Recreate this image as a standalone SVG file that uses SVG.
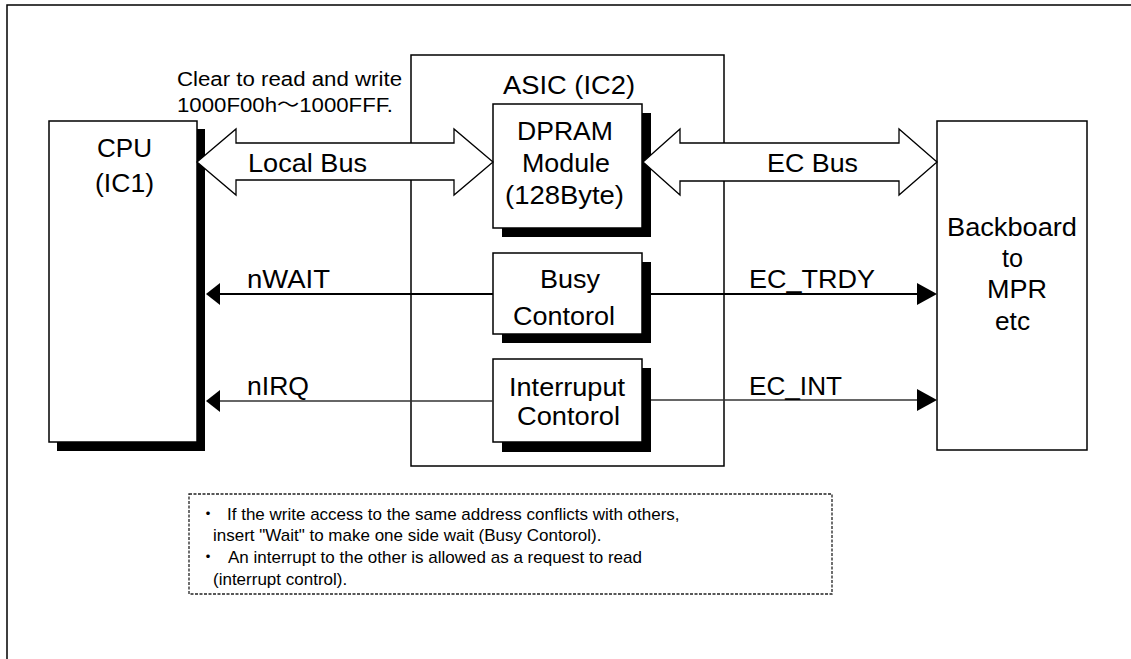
<svg xmlns="http://www.w3.org/2000/svg" width="1131" height="659" viewBox="0 0 1131 659">
<style>
text{font-family:"Liberation Sans",Arial,"Noto Sans CJK JP",sans-serif;fill:#000}
.lbl{font-size:25px}
.big{font-size:26px}
.note{font-size:17px}
.box{fill:#fff;stroke:#000;stroke-width:1.5}
.shadow{fill:#000}
.bus{fill:#fff;stroke:#000;stroke-width:1.3;stroke-linejoin:miter}
.sig{stroke:#000;stroke-width:2;fill:none}
.sig2{stroke:#333;stroke-width:1.3;fill:none}
.head{fill:#000}
</style>
<rect x="7" y="5" width="1140" height="700" fill="#fff" stroke="#000" stroke-width="1.5"/>
<g id="asic">
<rect class="box" x="411" y="55" width="313" height="411"/>
<text class="big" x="503" y="94" textLength="132" lengthAdjust="spacingAndGlyphs">ASIC (IC2)</text>
</g>
<g id="cpu">
<rect class="shadow" x="57" y="129" width="148" height="322"/>
<rect class="box" x="49" y="121" width="148" height="321"/>
<text class="big" x="97" y="157" textLength="55" lengthAdjust="spacingAndGlyphs">CPU</text>
<text class="big" x="95" y="192" textLength="59" lengthAdjust="spacingAndGlyphs">(IC1)</text>
</g>
<g id="dpram">
<rect class="shadow" x="502" y="113" width="149" height="124"/>
<rect class="box" x="493" y="104" width="149" height="124"/>
<text class="big" x="517" y="140" textLength="96" lengthAdjust="spacingAndGlyphs">DPRAM</text>
<text class="big" x="522" y="172" textLength="88" lengthAdjust="spacingAndGlyphs">Module</text>
<text class="big" x="505" y="204" textLength="119" lengthAdjust="spacingAndGlyphs">(128Byte)</text>
</g>
<g id="busy">
<rect class="shadow" x="502" y="262" width="149" height="81"/>
<rect class="box" x="493" y="253" width="149" height="81"/>
<text class="big" x="540" y="288" textLength="60" lengthAdjust="spacingAndGlyphs">Busy</text>
<text class="big" x="513" y="325" textLength="102" lengthAdjust="spacingAndGlyphs">Contorol</text>
</g>
<g id="interrupt">
<rect class="shadow" x="502" y="368" width="149" height="84"/>
<rect class="box" x="493" y="359" width="149" height="83"/>
<text class="big" x="509" y="396" textLength="116" lengthAdjust="spacingAndGlyphs">Interruput</text>
<text class="big" x="517" y="425" textLength="103" lengthAdjust="spacingAndGlyphs">Contorol</text>
</g>
<g id="backboard">
<rect class="box" x="937" y="121" width="150" height="329"/>
<text class="big" x="947" y="236" textLength="130" lengthAdjust="spacingAndGlyphs">Backboard</text>
<text class="big" x="1002" y="267" textLength="21" lengthAdjust="spacingAndGlyphs">to</text>
<text class="big" x="987" y="298" textLength="60" lengthAdjust="spacingAndGlyphs">MPR</text>
<text class="big" x="995" y="330" textLength="35" lengthAdjust="spacingAndGlyphs">etc</text>
</g>
<g id="address-note">
<text style="font-size:20px" x="177" y="86" textLength="225" lengthAdjust="spacingAndGlyphs">Clear to read and write</text>
<text style="font-size:20px" x="177" y="112" textLength="216" lengthAdjust="spacingAndGlyphs">1000F00h～1000FFF.</text>
</g>
<g id="connectors">
<polygon class="bus" points="197,162 236,129 236,143 454,143 454,129 493,162 454,195 454,180 236,180 236,195"/>
<polygon class="bus" points="643,162 680,129 680,143 899,143 899,129 937,162 899,195 899,181 680,181 680,195"/>
<line class="sig" x1="218" y1="294" x2="493" y2="294"/>
<polygon class="head" points="206,294 220,283 220,305"/>
<line class="sig2" x1="218" y1="401" x2="493" y2="401"/>
<polygon class="head" points="206,401 220,390 220,412"/>
<line class="sig" x1="651" y1="294" x2="920" y2="294"/>
<polygon class="head" points="937,294 917,283 917,305"/>
<line class="sig2" x1="651" y1="400" x2="920" y2="400"/>
<polygon class="head" points="937,400 917,389 917,411"/>
<text class="lbl" x="248" y="172" textLength="119" lengthAdjust="spacingAndGlyphs">Local Bus</text>
<text class="lbl" x="767" y="172" textLength="91" lengthAdjust="spacingAndGlyphs">EC Bus</text>
<text class="lbl" x="247" y="288" textLength="83" lengthAdjust="spacingAndGlyphs">nWAIT</text>
<text class="lbl" x="247" y="395" textLength="62" lengthAdjust="spacingAndGlyphs">nIRQ</text>
<text class="lbl" x="749" y="288" textLength="126" lengthAdjust="spacingAndGlyphs">EC_TRDY</text>
<text class="lbl" x="749" y="395" textLength="93" lengthAdjust="spacingAndGlyphs">EC_INT</text>
</g>
<g id="remarks">
<rect x="189" y="494" width="643" height="100" fill="none" stroke="#222" stroke-width="1.3" stroke-dasharray="3,1.5"/>
<text class="note" x="208" y="520" text-anchor="middle" style="font-family:'Noto Sans CJK JP',sans-serif">・</text>
<text class="note" x="227" y="520">If the write access to the same address conflicts with others,</text>
<text class="note" x="213" y="541">insert "Wait" to make one side wait (Busy Contorol).</text>
<text class="note" x="208" y="563" text-anchor="middle" style="font-family:'Noto Sans CJK JP',sans-serif">・</text>
<text class="note" x="228" y="563">An interrupt to the other is allowed as a request to read</text>
<text class="note" x="213" y="585">(interrupt control).</text>
</g>
</svg>
